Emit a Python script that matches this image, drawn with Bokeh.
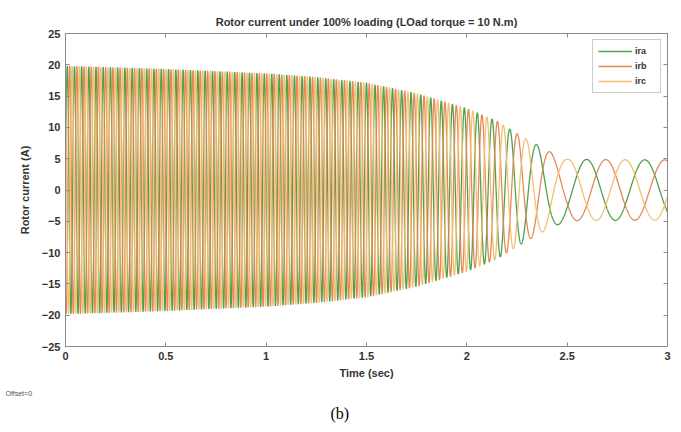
import numpy as np
from bokeh.plotting import figure
from bokeh.models import (FixedTicker, LinearAxis, Range1d, Legend, LegendItem, Title)
from bokeh.embed import file_html
from bokeh.resources import INLINE

# ---- values ----
env_t = [0.0, 0.5, 1.0, 1.25, 1.5, 1.75, 2.0, 2.15, 2.25, 2.4, 2.5, 3.0]
env_amp = [19.8, 19.3, 18.6, 18.0, 17.1, 15.4, 13.0, 11.0, 9.0, 6.3, 4.9, 4.8]
freq_t = [0.0, 1.0, 1.5, 1.8, 2.0, 2.15, 2.3, 2.45, 3.0]
freq_hz = [28.0, 27.0, 24.0, 20.0, 16.0, 12.0, 6.7, 3.6, 3.33]
phase_names = ["ira", "irb", "irc"]
phase_shift_deg = [0, -120, 120]
x_ticks = [0, 0.5, 1, 1.5, 2, 2.5, 3]
x_tick_labels = ["0", "0.5", "1", "1.5", "2", "2.5", "3"]
y_ticks = [-25, -20, -15, -10, -5, 0, 5, 10, 15, 20, 25]
colors = ["#479c45", "#e4834c", "#f1bd6c"]

# build waveform from the read envelope and frequency
t = np.linspace(0, 3, 9000)
amp = np.interp(t, env_t, env_amp)
f = np.interp(t, freq_t, freq_hz)
theta = 2 * np.pi * np.concatenate([[0], np.cumsum((f[1:] + f[:-1]) / 2 * np.diff(t))])

p = figure(width=681, height=432, output_backend="svg", toolbar_location=None,
           x_range=Range1d(0, 3), y_range=Range1d(-25, 25),
           min_border_left=65, min_border_right=14, min_border_top=33, min_border_bottom=86)
p.background_fill_color = "white"
p.border_fill_color = "white"
p.xgrid.visible = False
p.ygrid.visible = False
p.outline_line_color = "#8a8a8a"
p.outline_line_width = 1

renderers = []
for name, sh, c in zip(phase_names, phase_shift_deg, colors):
    y = amp * np.sin(theta + np.deg2rad(sh))
    r = p.line(t, y, line_color=c, line_width=1.3, line_alpha=0.95)
    renderers.append((name, r))

p.title.text = "Rotor current under 100% loading (LOad torque = 10 N.m)"
p.title.align = "center"
p.title.text_font = "Liberation Sans"
p.title.text_font_size = "11px"
p.title.text_font_style = "bold"
p.title.text_color = "#333333"
p.title.standoff = 11

for ax in (p.xaxis[0], p.yaxis[0]):
    ax.major_tick_in = 4
    ax.major_tick_out = 0
    ax.minor_tick_in = 0
    ax.minor_tick_out = 0
    ax.axis_line_color = "#8a8a8a"
    ax.major_tick_line_color = "#8a8a8a"
    ax.major_label_text_font = "Liberation Sans"
    ax.major_label_text_font_size = "11px"
    ax.major_label_text_font_style = "bold"
    ax.major_label_text_color = "#333333"
    ax.axis_label_text_font = "Liberation Sans"
    ax.axis_label_text_font_size = "11px"
    ax.axis_label_text_font_style = "bold"
    ax.axis_label_text_color = "#333333"

p.xaxis.ticker = FixedTicker(ticks=x_ticks)
p.xaxis.major_label_overrides = {v: s for v, s in zip(x_ticks, x_tick_labels)}
p.yaxis.ticker = FixedTicker(ticks=y_ticks)
p.xaxis.axis_label = "Time (sec)"
p.yaxis.axis_label = "Rotor current (A)"
p.xaxis.major_label_standoff = 5
p.yaxis.major_label_standoff = 5
p.xaxis.axis_label_standoff = 4
p.yaxis.axis_label_standoff = 8

# box ticks on top and right (no labels)
top = LinearAxis(ticker=FixedTicker(ticks=x_ticks), major_tick_in=4, major_tick_out=0,
                 minor_tick_in=0, minor_tick_out=0,
                 major_label_overrides={v: "" for v in x_ticks},
                 major_label_standoff=0, axis_line_color="#8a8a8a", major_tick_line_color="#8a8a8a")
right = LinearAxis(ticker=FixedTicker(ticks=y_ticks), major_tick_in=4, major_tick_out=0,
                   minor_tick_in=0, minor_tick_out=0,
                   major_label_overrides={v: "" for v in y_ticks},
                   major_label_standoff=0, axis_line_color="#8a8a8a", major_tick_line_color="#8a8a8a")
p.add_layout(top, "above")
p.add_layout(right, "right")

legend = Legend(items=[LegendItem(label=n, renderers=[r]) for n, r in renderers],
                location="top_right", glyph_width=34, glyph_height=12,
                label_text_font="Liberation Sans", label_text_font_size="9px",
                label_text_font_style="bold", label_text_color="#333333",
                border_line_color="#9a9a9a", spacing=3, padding=5, margin=6,
                label_standoff=3, label_height=12)
p.add_layout(legend)

p.add_layout(Title(text="Offset=0", align="left", offset=-60, text_font="Liberation Sans",
                   text_font_size="7px", text_font_style="normal", text_color="#555555",
                   standoff=12), "below")
p.add_layout(Title(text="(b)", align="left", offset=265, text_font="Liberation Serif",
                   text_font_size="16px", text_font_style="normal", text_color="#000000",
                   standoff=0), "below")

open("out.html", "w").write(file_html(p, INLINE))
